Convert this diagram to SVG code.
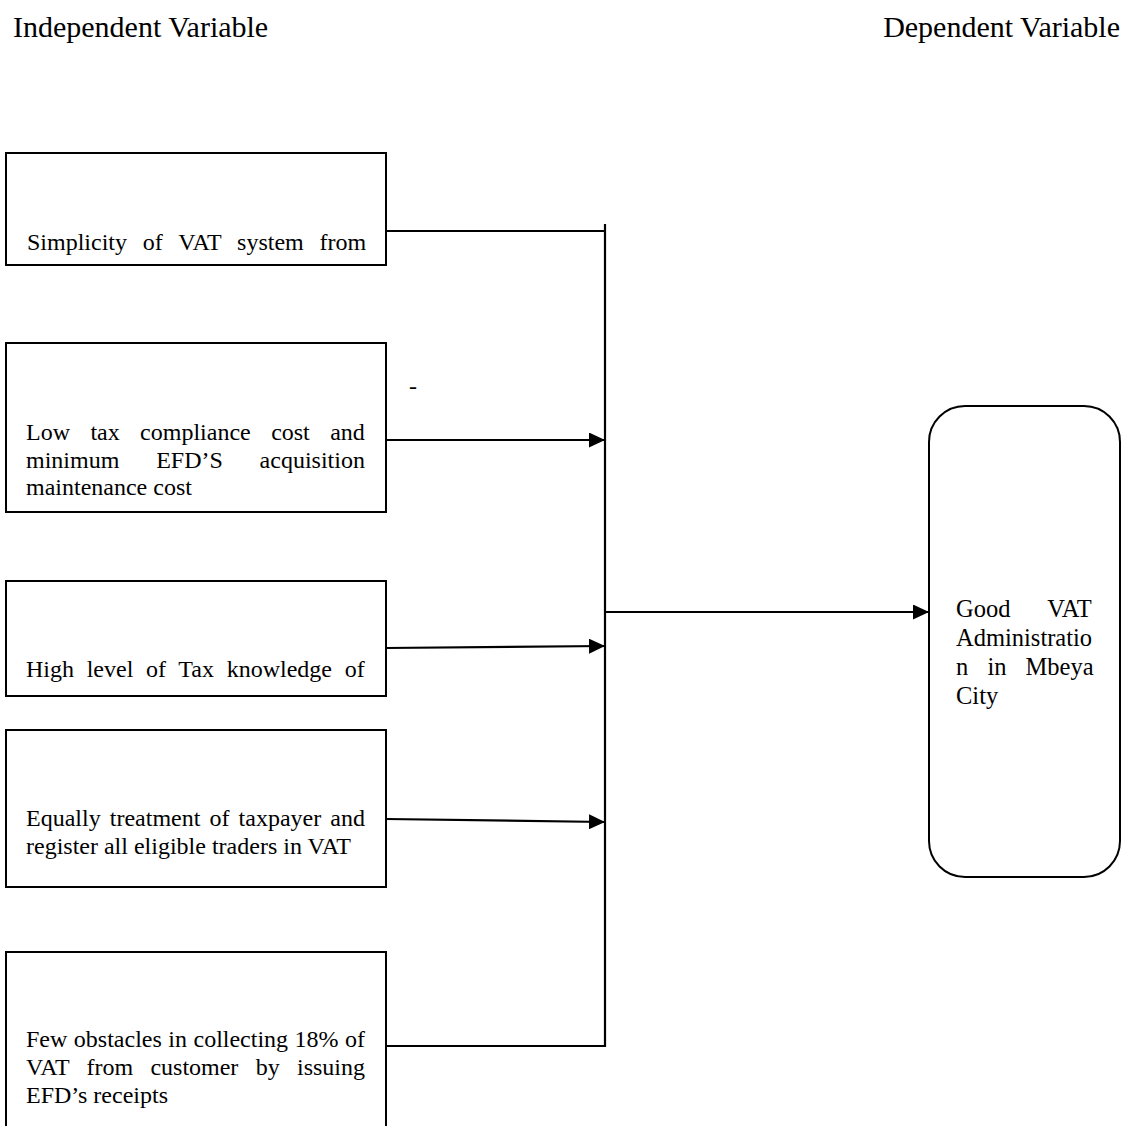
<svg xmlns="http://www.w3.org/2000/svg" width="1129" height="1126" viewBox="0 0 1129 1126">
<style>
.box{fill:#fff;stroke:#000;stroke-width:2}
.t{font-family:"Liberation Serif","Times New Roman",serif;font-size:24px;fill:#000}
.r{font-family:"Liberation Serif","Times New Roman",serif;font-size:24.5px;fill:#000}
.h{font-family:"Liberation Serif","Times New Roman",serif;font-size:30px;fill:#000}
.c{stroke:#000;stroke-width:2.2;fill:none}
</style>
<defs>
<marker id="ah" markerUnits="userSpaceOnUse" markerWidth="16" markerHeight="15" refX="16" refY="7.5" orient="auto">
<path d="M0,0 L16,7.5 L0,15 Z" fill="#000"/>
</marker>
</defs>
<rect width="1129" height="1126" fill="#fff"/>
<text class="h" x="13" y="37">Independent Variable</text>
<text class="h" x="1120" y="37" text-anchor="end">Dependent Variable</text>

<g id="n1">
<rect class="box" x="6" y="153" width="380" height="112"/>
<text class="t" x="27" y="250" word-spacing="9.8">Simplicity of VAT system from</text>
</g>
<g id="n2">
<rect class="box" x="6" y="343" width="380" height="169"/>
<text class="t" x="26" y="440" word-spacing="14.4">Low tax compliance cost and</text>
<text class="t" x="26" y="468" word-spacing="30.8">minimum EFD’S acquisition</text>
<text class="t" x="26" y="495">maintenance cost</text>
</g>
<g id="n3">
<rect class="box" x="6" y="581" width="380" height="115"/>
<text class="t" x="26" y="677" word-spacing="6.7">High level of Tax knowledge of</text>
</g>
<g id="n4">
<rect class="box" x="6" y="730" width="380" height="157"/>
<text class="t" x="26" y="826" word-spacing="3.1">Equally treatment of taxpayer and</text>
<text class="t" x="26" y="854">register all eligible traders in VAT</text>
</g>
<g id="n5">
<rect class="box" x="6" y="952" width="380" height="200"/>
<text class="t" x="26" y="1047" word-spacing="0.5">Few obstacles in collecting 18% of</text>
<text class="t" x="26" y="1075" word-spacing="11.3">VAT from customer by issuing</text>
<text class="t" x="26" y="1103">EFD’s receipts</text>
</g>
<g id="n6">
<rect class="box" x="929" y="406" width="191" height="471" rx="36" ry="36"/>
<text class="r" x="956" y="617" word-spacing="31">Good VAT</text>
<text class="r" x="956" y="646">Administratio</text>
<text class="r" x="956" y="675" word-spacing="13">n in Mbeya</text>
<text class="r" x="956" y="704">City</text>
</g>
<text class="t" x="409" y="394">-</text>

<g id="connectors">
<line class="c" x1="386" y1="231" x2="605" y2="231"/>
<line class="c" x1="605" y1="224" x2="605" y2="1047"/>
<line class="c" x1="386" y1="440" x2="605" y2="440" marker-end="url(#ah)"/>
<line class="c" x1="386" y1="648" x2="605" y2="646" marker-end="url(#ah)"/>
<line class="c" x1="386" y1="819" x2="605" y2="822" marker-end="url(#ah)"/>
<line class="c" x1="386" y1="1046" x2="606" y2="1046"/>
<line class="c" x1="605" y1="612" x2="929" y2="612" marker-end="url(#ah)"/>
</g>
</svg>
